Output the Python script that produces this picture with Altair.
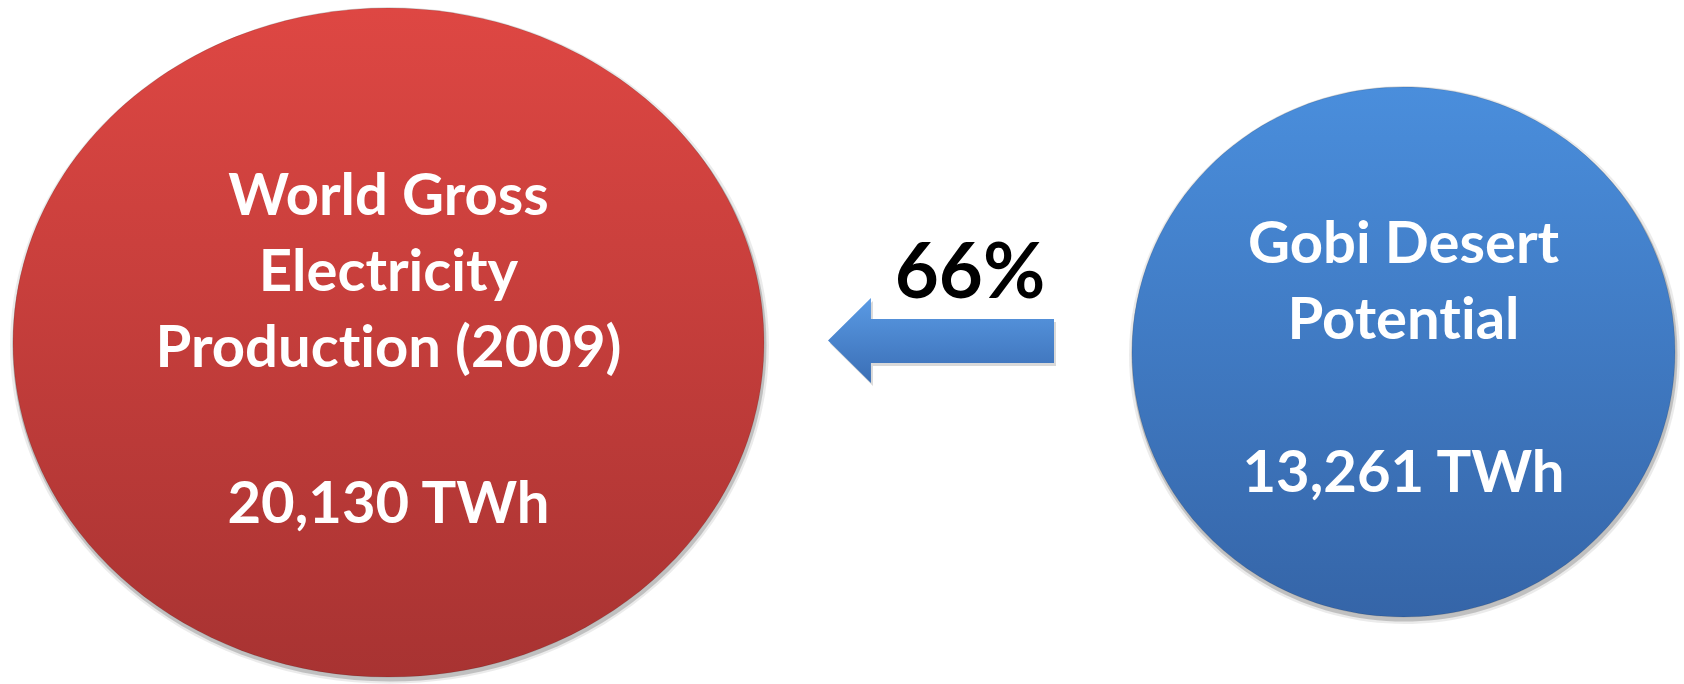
import altair as alt
import pandas as pd

# ---------------- data ----------------
names = ["World Gross Electricity Production (2009)", "Gobi Desert Potential"]
title_lines = [["World Gross", "Electricity", "Production (2009)"],
               ["Gobi Desert", "Potential"]]
values_twh = [20130, 13261]
unit = "TWh"
share_pct = round(100 * values_twh[1] / values_twh[0])  # 66

# ---------------- layout (pixels) ----------------
W, H = 1684, 684
centers_x = [388.5, 1403.5]
centers_y = [342.5, 352.0]
ell_width = [751, 543]
ell_aspect = [0.891, 0.976]
first_baseline = [215, 263]
value_baseline = [523, 492]
line_pitch = 76
fills = [("#DE4743", "#A83332"), ("#4A8EDC", "#3565A8")]
arrow_pos = (941, 340.5)
arrow_width = 226
share_pos = (970, 298)

title_size = 58
share_size = 76
font = "Lato"

xs = alt.Scale(domain=[0, W], nice=False, zero=False)
ys = alt.Scale(domain=[0, H], nice=False, zero=False, reverse=True)


def X(f="x"):
    return alt.X(f"{f}:Q", scale=xs, axis=None)


def Y(f="y"):
    return alt.Y(f"{f}:Q", scale=ys, axis=None)


def grad(c0, c1):
    return alt.LinearGradient(
        gradient="linear",
        stops=[alt.GradientStop(color=c0, offset=0), alt.GradientStop(color=c1, offset=1)],
        x1=0, x2=0, y1=0, y2=1,
    )


def no_liga(s):
    # keep the browser from drawing the "ti" ligature of the font
    return s.replace("ti", "t\u200ci")


layers = []
for i in range(2):
    a = ell_aspect[i]
    path = f"M -1 0 A 1 {a} 0 1 1 1 0 A 1 {a} 0 1 1 -1 0 Z"
    df = pd.DataFrame({"name": [names[i]], "value": [values_twh[i]],
                       "x": [centers_x[i]], "y": [centers_y[i]],
                       "xs": [centers_x[i] + 1], "ys": [centers_y[i] + 3]})
    shadow_outer = alt.Chart(df).mark_point(
        shape=path, filled=True, fill="#000000", opacity=0.08, strokeWidth=0,
        size=(ell_width[i] + 8) ** 2,
    ).encode(x=X("xs"), y=Y("ys"))
    shadow = alt.Chart(df).mark_point(
        shape=path, filled=True, fill="#000000", opacity=0.18, strokeWidth=0,
        size=(ell_width[i] + 3) ** 2,
    ).encode(x=X("xs"), y=Y("ys"))
    body = alt.Chart(df).mark_point(
        shape=path, filled=True, fill=grad(*fills[i]), opacity=1,
        stroke="#000000", strokeOpacity=0.12, strokeWidth=1,
        size=ell_width[i] ** 2,
    ).encode(x=X(), y=Y(), tooltip=["name:N", "value:Q"])
    layers += [shadow_outer, shadow, body]

# arrow
arrow_path = ("M -1 0 L -0.62 -0.376 L -0.62 -0.19 L 1 -0.19 L 1 0.2 "
              "L -0.62 0.2 L -0.62 0.376 Z")
arrow_df = pd.DataFrame({"share": [share_pct], "x": [arrow_pos[0]], "y": [arrow_pos[1]],
                         "xs": [arrow_pos[0] + 2], "ys": [arrow_pos[1] + 3]})
layers.append(alt.Chart(arrow_df).mark_point(
    shape=arrow_path, filled=True, fill="#000000", opacity=0.15, strokeWidth=0,
    size=arrow_width ** 2).encode(x=X("xs"), y=Y("ys")))
layers.append(alt.Chart(arrow_df).mark_point(
    shape=arrow_path, filled=True, fill=grad("#5A9AE4", "#3A6EB5"), opacity=1,
    strokeWidth=0, size=arrow_width ** 2).encode(x=X(), y=Y()))

# texts
rows = []
for i in range(2):
    for k, line in enumerate(title_lines[i]):
        rows.append({"text": no_liga(line), "x": centers_x[i],
                     "y": first_baseline[i] + k * line_pitch})
    rows.append({"text": f"{values_twh[i]:,} {unit}", "x": centers_x[i],
                 "y": value_baseline[i]})
text_df = pd.DataFrame(rows)
layers.append(alt.Chart(text_df).mark_text(
    font=font, fontWeight="bold", fontSize=title_size, color="white",
    align="center", baseline="alphabetic").encode(x=X(), y=Y(), text="text:N"))

share_df = pd.DataFrame({"text": [f"{share_pct}%"], "x": [share_pos[0]], "y": [share_pos[1]]})
layers.append(alt.Chart(share_df).mark_text(
    font=font, fontWeight="bold", fontSize=share_size, color="black",
    align="center", baseline="alphabetic").encode(x=X(), y=Y(), text="text:N"))

chart = alt.layer(*layers).properties(
    width=W, height=H, padding=0, autosize="none", background="white"
).configure_view(stroke=None)

chart.save("out.html", embed_options={"renderer": "svg", "actions": False})
